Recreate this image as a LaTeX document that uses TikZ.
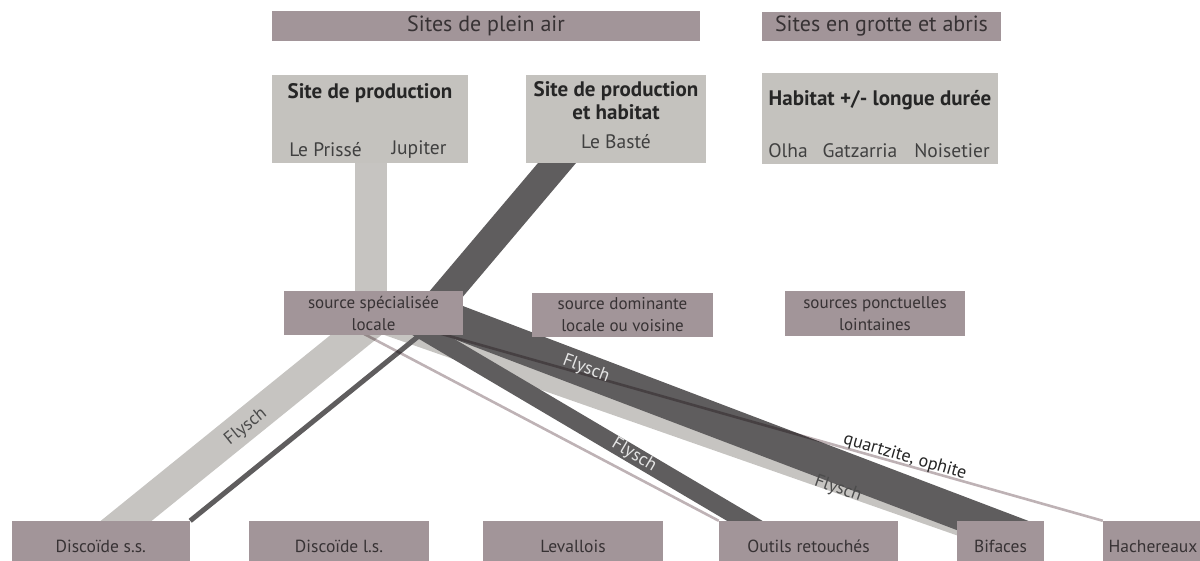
\documentclass[tikz,border=0pt]{standalone}
\usepackage{fontspec}
\setmainfont{PT Sans}
\usetikzlibrary{calc,backgrounds}
\definecolor{mauve}{RGB}{162,149,153}
\definecolor{boxgray}{RGB}{196,194,190}
\definecolor{bandlight}{RGB}{198,196,193}
\definecolor{banddark}{RGB}{95,93,94}
\definecolor{thinl}{RGB}{190,178,181}
\definecolor{txt}{RGB}{55,50,52}
\definecolor{lbl}{RGB}{228,228,228}
\begin{document}
\begin{tikzpicture}[x=1pt,y=-1pt,
  mbox/.style={fill=mauve,draw=none,inner sep=0pt,text=txt,align=center},
  gbox/.style={fill=boxgray,draw=none,inner sep=0pt},
  ttl/.style={font=\fontsize{22}{26}\selectfont},
  srct/.style={font=\fontsize{17}{22}\selectfont},
  bott/.style={font=\fontsize{17.5}{20}\selectfont},
  btitle/.style={font=\bfseries\fontsize{21}{23}\selectfont,text=black!85,align=center,inner sep=0pt},
  gname/.style={font=\fontsize{19.5}{22}\selectfont,text=black!75,inner sep=0pt},
  lband/.style={draw=bandlight,line cap=butt},
  dband/.style={draw=banddark,line cap=butt},
  thin/.style={draw=thinl,line width=2.6pt,blend mode=multiply},
  flw/.style={font=\fontsize{18}{20}\selectfont,text=lbl,inner sep=0pt},
  fld/.style={font=\fontsize{18}{20}\selectfont,text=black!70,inner sep=0pt}]
\useasboundingbox (0,0) rectangle (1200,561);
% top headers
\node[mbox,ttl,minimum width=428pt,minimum height=30pt] (plein) at (486,26) {Sites de plein air};
\node[mbox,ttl,minimum width=239pt,minimum height=29pt] (grotte) at (881.5,26.5) {Sites en grotte et abris};
% site boxes
\node[gbox,minimum width=196pt,minimum height=88pt] (prod) at (370,119) {};
\node[btitle] (prodt) at (370,93) {Site de production};
\node[gname] (prisse) at (325.5,150) {Le Prissé};
\node[gname] (jupiter) at (419,150) {Jupiter};
\node[gbox,minimum width=180pt,minimum height=88pt] (habprod) at (616,119) {};
\node[btitle] (habprodt) at (616,101) {Site de production\\et habitat};
\node[gname] (baste) at (616,142) {Le Basté};
\node[gbox,minimum width=236pt,minimum height=91pt] (habitat) at (880,118.5) {};
\node[btitle] (habitatt) at (880,100) {Habitat +/- longue durée};
\node[gname] (olha) at (788,151) {Olha};
\node[gname] (gatz) at (860,151) {Gatzarria};
\node[gname] (nois) at (952,151) {Noisetier};
% sources
\node[mbox,srct,minimum width=179pt,minimum height=44pt] (src) at (373.5,313) {source spécialisée\\locale};
\node[mbox,srct,minimum width=181pt,minimum height=44pt] (dom) at (622.5,315) {source dominante\\locale ou voisine};
\node[mbox,srct,minimum width=180pt,minimum height=45pt] (ponct) at (875,313.5) {sources ponctuelles\\lointaines};
% products
\node[mbox,bott,minimum width=178.5pt,minimum height=50pt] (dss) at (100.75,546) {Discoïde s.s.};
\node[mbox,bott,minimum width=180pt,minimum height=50pt] (dls) at (339,546) {Discoïde l.s.};
\node[mbox,bott,minimum width=180pt,minimum height=50pt] (lev) at (573,546) {Levallois};
\node[mbox,bott,minimum width=179pt,minimum height=50pt] (out) at (808.5,546) {Outils retouchés};
\node[mbox,bott,minimum width=87pt,minimum height=50pt] (bif) at (1000.5,546) {Bifaces};
\node[mbox,bott,minimum width=100pt,minimum height=50pt] (hach) at (1153,546) {Hachereaux};
% flows
\begin{scope}[on background layer]
  \draw[lband,line width=32pt] ($(prod)+(1,21)$) -- ($(src)+(-2.5,-3)$);
  \draw[lband,line width=32pt] ($(src)+(7.2,2)$) -- ($(dss)+(-5.65,0)$);
  \draw[lband,line width=26pt] ($(src)+(-13.5,-0.3)$) -- ($(bif)+(-0.5,-9.3)$);
  \draw[dband,line width=29pt] ($(habprod)+(-35.3,16)$) -- ($(src)+(54.9,2)$);
  \draw[dband,line width=5pt] ($(src)+(65,7)$) -- (dss.north east);
  \draw[dband,line width=18pt] ($(src)+(6.5,-7.5)$) -- ($(out)+(-28.5,-4.3)$);
  \draw[dband,line width=34pt] ($(src)+(51.5,-3.2)$) -- ($(bif)+(29.5,-6.3)$);
  \draw[thin] ($(src)+(-28.5,10.9)$) -- (out.north west);
  \draw[thin] ($(src)+(66.5,20.5)$) -- (hach.north west);
\end{scope}
% labels
\node[fld,rotate=39] (fl1) at (246,427) {Flysch};
\node[flw,rotate=-20.8] (fl2) at (586,369) {Flysch};
\node[flw,rotate=-30.6] (fl3) at (634,455) {Flysch};
\node[fld,rotate=-19.3] (fl4) at (838,489) {Flysch};
\node[fld,text=black!85,rotate=-16] (quartz) at (905,457) {quartzite, ophite};
\end{tikzpicture}
\end{document}
